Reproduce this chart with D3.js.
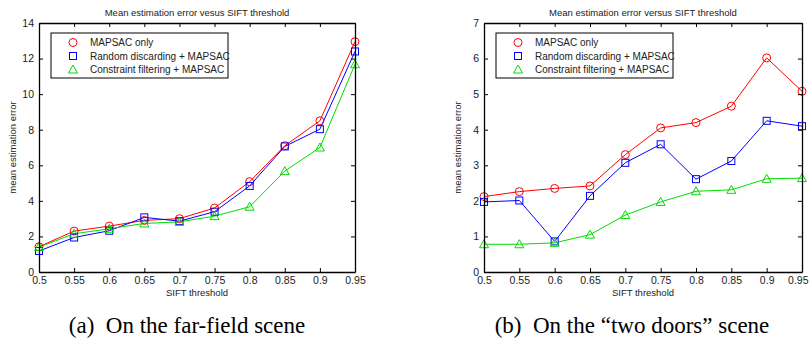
<!DOCTYPE html>
<html>
<head>
<meta charset="utf-8">
<script src="https://cdn.jsdelivr.net/npm/d3@7"></script>
<style>
  body { margin: 0; background: #fff; }
  svg { display: block; }
  text { font-family: "Liberation Sans", Arial, sans-serif; fill: #222; }
  .caption { font-family: "Liberation Serif", "Times New Roman", serif; fill: #000; }
</style>
</head>
<body>
<svg id="chart" width="810" height="342"></svg>
<script>
const thresholds = [0.5, 0.55, 0.6, 0.65, 0.7, 0.75, 0.8, 0.85, 0.9, 0.95];
const xTicks = ["0.5", "0.55", "0.6", "0.65", "0.7", "0.75", "0.8", "0.85", "0.9", "0.95"];
const seriesNames = ["MAPSAC only", "Random discarding + MAPSAC", "Constraint filtering + MAPSAC"];

// (a) far-field scene
const farMapsac = [1.42, 2.3, 2.58, 2.9, 3.0, 3.6, 5.08, 7.1, 8.5, 12.95];
const farRandom = [1.18, 1.94, 2.32, 3.07, 2.86, 3.39, 4.84, 7.06, 8.03, 12.4];
const farConstraint = [1.4, 2.15, 2.43, 2.73, 2.82, 3.14, 3.67, 5.67, 7.0, 11.68];

// (b) "two doors" scene
const doorsMapsac = [2.12, 2.26, 2.35, 2.42, 3.3, 4.05, 4.2, 4.66, 6.02, 5.08];
const doorsRandom = [1.97, 2.01, 0.86, 2.14, 3.07, 3.59, 2.61, 3.12, 4.25, 4.1];
const doorsConstraint = [0.78, 0.78, 0.82, 1.05, 1.6, 1.97, 2.27, 2.31, 2.62, 2.64];

const colors = ["#ff0000", "#0000ff", "#00dd00"];
const shapes = ["circle", "square", "triangle"];

const svg = d3.select("#chart");

function marker(g, shape, x, y, color) {
  if (shape === "circle") {
    g.append("circle").attr("cx", x).attr("cy", y).attr("r", 4)
      .attr("fill", "none").attr("stroke", color).attr("stroke-width", 1);
  } else if (shape === "square") {
    g.append("rect").attr("x", x - 3.5).attr("y", y - 3.5).attr("width", 7).attr("height", 7)
      .attr("fill", "none").attr("stroke", color).attr("stroke-width", 1);
  } else {
    g.append("path").attr("d", `M${x},${y - 4.5}L${x + 4.5},${y + 3.5}L${x - 4.5},${y + 3.5}Z`)
      .attr("fill", "none").attr("stroke", color).attr("stroke-width", 1);
  }
}

function drawPanel(opt) {
  const g = svg.append("g");
  const x = d3.scaleLinear().domain([0.5, 0.95]).range([opt.left, opt.right]);
  const y = d3.scaleLinear().domain([0, opt.ymax]).range([272, 23]);
  const yTicks = d3.range(0, opt.ymax + 0.001, opt.ystep);

  // series
  opt.series.forEach((vals, si) => {
    const line = d3.line().x((d, i) => x(thresholds[i])).y(d => y(d));
    g.append("path").datum(vals).attr("d", line)
      .attr("fill", "none").attr("stroke", colors[si]).attr("stroke-width", 1);
  });
  opt.series.forEach((vals, si) => {
    vals.forEach((v, i) => marker(g, shapes[si], x(thresholds[i]), y(v), colors[si]));
  });

  // axes with inward ticks on all sides
  const bottom = g.append("g").attr("transform", "translate(0,272)")
    .call(d3.axisBottom(x).tickValues(thresholds).tickFormat((d, i) => xTicks[i]).tickSizeInner(-4).tickSizeOuter(0).tickPadding(5));
  const top = g.append("g").attr("transform", "translate(0,23)")
    .call(d3.axisTop(x).tickValues(thresholds).tickFormat("").tickSizeInner(-4).tickSizeOuter(0));
  const left = g.append("g").attr("transform", `translate(${opt.left},0)`)
    .call(d3.axisLeft(y).tickValues(yTicks).tickFormat(d3.format("d")).tickSizeInner(-4).tickSizeOuter(0).tickPadding(5));
  const right = g.append("g").attr("transform", `translate(${opt.right},0)`)
    .call(d3.axisRight(y).tickValues(yTicks).tickFormat("").tickSizeInner(-4).tickSizeOuter(0));
  [bottom, top, left, right].forEach(a => {
    a.select(".domain").attr("stroke", "#000").attr("stroke-width", 1.3);
    a.selectAll(".tick line").attr("stroke", "#000");
    a.selectAll("text").attr("font-size", 10.5).attr("font-family", "Liberation Sans, Arial, sans-serif").attr("fill", "#222");
  });
  if (opt.shiftLast) {
    // last x label sits against the page edge
    bottom.selectAll(".tick text").filter((d, i) => i === thresholds.length - 1)
      .attr("text-anchor", "end").attr("dx", 6);
  }

  // title and labels
  const cx = (opt.left + opt.right) / 2;
  g.append("text").attr("x", cx).attr("y", 16).attr("text-anchor", "middle")
    .attr("font-size", 9.5).text(opt.title);
  g.append("text").attr("x", cx).attr("y", 296).attr("text-anchor", "middle")
    .attr("font-size", 9.5).text("SIFT threshold");
  g.append("text").attr("transform", `translate(${opt.left - 23},${(23 + 272) / 2}) rotate(-90)`)
    .attr("text-anchor", "middle").attr("font-size", 9.5).text("mean estimation error");

  // legend
  const lg = g.append("g").attr("transform", `translate(${opt.legendX},33)`);
  lg.append("rect").attr("width", 177).attr("height", 45)
    .attr("fill", "#fff").attr("stroke", "#000").attr("stroke-width", 1);
  seriesNames.forEach((name, i) => {
    const yy = 9.5 + i * 13.5;
    marker(lg, shapes[i], 22, yy, colors[i]);
    lg.append("text").attr("x", 39).attr("y", yy + 3.5).attr("font-size", 10).text(name);
  });

  // caption
  svg.append("text").attr("class", "caption").attr("x", opt.captionX).attr("y", 333)
    .attr("text-anchor", "middle").attr("font-size", 23).text(opt.caption);
}

drawPanel({
  left: 39, right: 355, ymax: 14, ystep: 2, legendX: 51,
  title: "Mean estimation error vesus SIFT threshold",
  series: [farMapsac, farRandom, farConstraint],
  caption: "(a)\u2002On the far-field scene", captionX: 187, shiftLast: false
});

drawPanel({
  left: 484, right: 802, ymax: 7, ystep: 1, legendX: 496,
  title: "Mean estimation error versus SIFT threshold",
  series: [doorsMapsac, doorsRandom, doorsConstraint],
  caption: "(b)\u2002On the \u201ctwo doors\u201d scene", captionX: 632, shiftLast: true
});
</script>
</body>
</html>
